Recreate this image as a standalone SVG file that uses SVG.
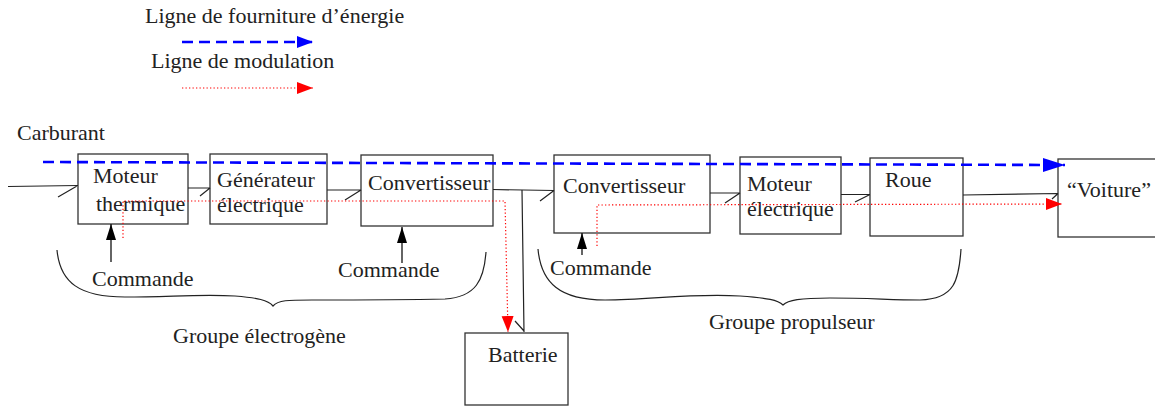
<svg xmlns="http://www.w3.org/2000/svg" width="1155" height="407" viewBox="0 0 1155 407">
<style>
text{font-family:"Liberation Serif","DejaVu Serif",serif;font-size:22px;fill:#222}
.box{fill:#fff;stroke:#333;stroke-width:1.3}
.en{fill:none;stroke:#222;stroke-width:1.2}
.blue{fill:none;stroke:#0000ff;stroke-width:2.6;stroke-dasharray:11 6}
.red{fill:none;stroke:#ff0000;stroke-width:1.2;stroke-dasharray:1.3 2.2}
.cmd{fill:none;stroke:#111;stroke-width:1.3}
.brace{fill:none;stroke:#222;stroke-width:1.2}
</style>
<defs>
<marker id="mb" markerUnits="userSpaceOnUse" markerWidth="24" markerHeight="16" refX="22" refY="8" orient="auto"><path d="M0,1 L22,8 L0,15 Z" fill="#0000ff"/></marker>
<marker id="mbs" markerUnits="userSpaceOnUse" markerWidth="18" markerHeight="14" refX="16" refY="7" orient="auto"><path d="M0,1 L16,7 L0,13 Z" fill="#0000ff"/></marker>
<marker id="mr" markerUnits="userSpaceOnUse" markerWidth="18" markerHeight="14" refX="16" refY="6" orient="auto"><path d="M0,0 L16,6 L0,12 Z" fill="#ff0000"/></marker>
<marker id="mk" markerUnits="userSpaceOnUse" markerWidth="18" markerHeight="12" refX="16" refY="5" orient="auto"><path d="M0,0 L16,5 L0,10 Z" fill="#000"/></marker>
</defs>

<g id="legend">
<text x="145" y="23">Ligne de fourniture d’énergie</text>
<path class="blue" d="M182,42 H313" marker-end="url(#mbs)"/>
<text x="151" y="68">Ligne de modulation</text>
<path class="red" d="M182,88 H313" marker-end="url(#mr)"/>
</g>

<g id="carburant"><text x="17" y="140">Carburant</text></g>

<g id="moteur-thermique">
<rect class="box" x="78" y="154" width="110" height="70"/>
<text x="93" y="183">Moteur</text>
<text x="96" y="211">thermique</text>
</g>
<g id="generateur">
<rect class="box" x="210" y="154" width="117" height="70"/>
<text x="217" y="187">Générateur</text>
<text x="217" y="212">électrique</text>
</g>
<g id="convertisseur1">
<rect class="box" x="361" y="155" width="132" height="71"/>
<text x="368" y="190">Convertisseur</text>
</g>
<g id="convertisseur2">
<rect class="box" x="554" y="155" width="156" height="78"/>
<text x="563" y="193">Convertisseur</text>
</g>
<g id="moteur-electrique">
<rect class="box" x="740" y="157" width="101" height="77"/>
<text x="747" y="191">Moteur</text>
<text x="747" y="216">électrique</text>
</g>
<g id="roue">
<rect class="box" x="870" y="158" width="93" height="78"/>
<text x="885" y="187">Roue</text>
</g>
<g id="voiture">
<rect class="box" x="1058" y="159" width="110" height="78"/>
<text x="1067" y="197">“Voiture”</text>
</g>
<g id="batterie">
<rect class="box" x="465" y="333" width="103" height="72"/>
<text x="488" y="362">Batterie</text>
</g>

<g id="commandes">
<text x="92" y="286">Commande</text>
<text x="338" y="277">Commande</text>
<text x="550" y="275">Commande</text>
</g>

<g id="groupes">
<path class="brace" d="M57,250 C60,283 80,297 125,297 C170,297 200,294 235,296 C258,298 268,300 273,306 C278,300 288,300 312,300 C360,300 400,300 445,299 C476,297 484,280 486,252"/>
<text x="173" y="343">Groupe électrogène</text>
<path class="brace" d="M538,249 C541,283 560,300 605,300 C650,300 690,293 740,296 C768,298 778,300 783,305 C788,300 800,298 830,298 C870,298 890,300 920,300 C955,299 959,280 961,249"/>
<text x="709" y="329">Groupe propulseur</text>
</g>

<g id="connecteurs">
<path class="en" d="M8,186.5 L78,185.5 M58,197 L77,186"/>
<path class="en" d="M188,188 H210 M200,196 L210,188"/>
<path class="en" d="M327,190 H361 M345,200 L361,190"/>
<path class="en" d="M493,189.5 L554,190.5 M540,201 L554,190.5"/>
<path class="en" d="M522,190 L524,332 M515,321 L524,331"/>
<path class="en" d="M710,193 H740 M725,203 L740,193"/>
<path class="en" d="M841,194.5 H870 M855,202 L870,194.5"/>
<path class="en" d="M963,195 L1058,193.5 M1052,199 L1058,193.5"/>
<path class="blue" d="M43,162 L1065,165" marker-end="url(#mb)"/>
<path class="red" d="M123,238 V201 H505 L508,332" marker-end="url(#mr)"/>
<path class="red" d="M597,246 V205 L1062,204" marker-end="url(#mr)"/>
<path class="cmd" d="M111,262 V224" marker-end="url(#mk)"/>
<path class="cmd" d="M402,263 V227" marker-end="url(#mk)"/>
<path class="cmd" d="M582,255 V233" marker-end="url(#mk)"/>
</g>
</svg>
